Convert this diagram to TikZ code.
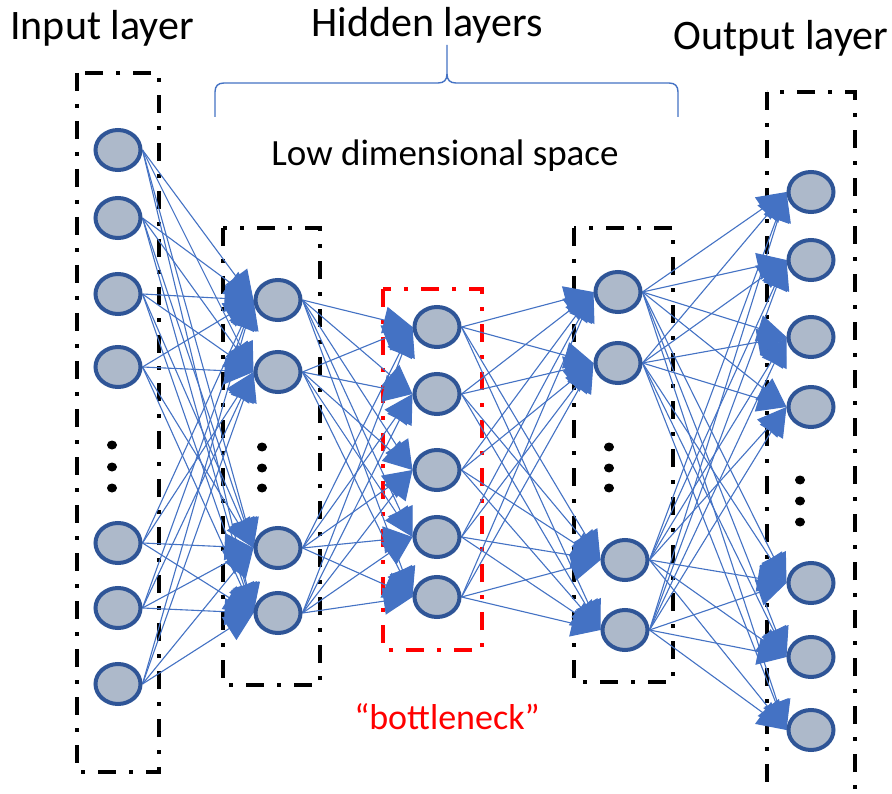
\documentclass[tikz,border=0pt]{standalone}
\usepackage{fontspec}
\setmainfont{Carlito}
\usetikzlibrary{shapes.geometric,arrows.meta,backgrounds}
\definecolor{edgeblue}{HTML}{4472C4}
\definecolor{nodefill}{HTML}{ADB9CA}
\definecolor{nodeline}{HTML}{2F5597}
\begin{document}
\begin{tikzpicture}[x=1pt,y=-1pt,
  neuron/.style={ellipse,draw=nodeline,line width=4pt,fill=nodefill,minimum width=45pt,minimum height=40pt,inner sep=0pt},
  conn/.style={draw=edgeblue,line width=1.1pt,-{Triangle[length=29pt,width=27pt]}},
  layerbox/.style={line width=4.5pt,dash pattern=on 18pt off 13pt on 4pt off 13pt},
  dotnode/.style={ellipse,fill=black,minimum width=10pt,minimum height=9pt,inner sep=0pt},
  lbl/.style={font=\fontsize{42}{50}\selectfont,anchor=base,inner sep=0pt}]
\useasboundingbox (0,0) rectangle (892,794);

% input layer
\foreach \n/\y in {1/150,2/218,3/294,4/367,5/543,6/608,7/684}
  \node[neuron] (in\n) at (118,\y) {};
\foreach \n/\y in {1/445,2/467,3/488}
  \node[dotnode] (din\n) at (112,\y) {};

% hidden layer 1
\foreach \n/\y in {1/300,2/372,3/548,4/613}
  \node[neuron] (ha\n) at (278,\y) {};
\foreach \n/\y in {1/447,2/468,3/488}
  \node[dotnode] (dha\n) at (262,\y) {};

% bottleneck
\foreach \n/\y in {1/327,2/394,3/470,4/537,5/597}
  \node[neuron] (b\n) at (437,\y) {};

% hidden layer 3
\node[neuron] (hb1) at (618,292) {};
\node[neuron] (hb2) at (618,363) {};
\node[neuron] (hb3) at (625,560) {};
\node[neuron] (hb4) at (625,630) {};
\foreach \n/\y in {1/447,2/468,3/488}
  \node[dotnode] (dhb\n) at (609,\y) {};

% output layer
\foreach \n/\y in {1/192,2/260,3/337,4/407,5/583,6/657,7/730}
  \node[neuron] (out\n) at (811,\y) {};
\foreach \n/\y in {1/480,2/501,3/522}
  \node[dotnode] (dout\n) at (800,\y) {};

\begin{pgfonlayer}{background}
  \fill[white] (0,0) rectangle (892,794);
  \draw[layerbox,black] (77,73) rectangle (159,772);
  \draw[layerbox,black] (223,228) rectangle (320,685);
  \draw[layerbox,red] (383,289) rectangle (482,650);
  \draw[layerbox,black] (574,228) rectangle (673,682);
  \draw[layerbox,black] (767,92) rectangle (855,820);
  \foreach \i in {1,...,7}{\foreach \j in {1,...,4}{\draw[conn] (in\i.east) -- (ha\j.west);}}
  \foreach \i in {1,...,4}{\foreach \j in {1,...,5}{\draw[conn] (ha\i.east) -- (b\j.west);}}
  \foreach \i in {1,...,5}{\foreach \j in {1,...,4}{\draw[conn] (b\i.east) -- (hb\j.west);}}
  \foreach \i in {1,...,4}{\foreach \j in {1,...,7}{\draw[conn] (hb\i.east) -- (out\j.west);}}
\end{pgfonlayer}

% brace
\draw[edgeblue,line width=1.4pt] (215,117) -- (215,92) .. controls (215,86) and (218,83) .. (224,83) -- (438,83) .. controls (444,83) and (447,80) .. (447,74) -- (447,45);
\draw[edgeblue,line width=1.4pt] (678,117) -- (678,92) .. controls (678,86) and (675,83) .. (669,83) -- (456,83) .. controls (450,83) and (447,80) .. (447,74);

% labels
\node[lbl] (tin) at (102,40) {Input layer};
\node[lbl] (thid) at (427,37) {Hidden layers};
\node[lbl] (tout) at (781,50) {Output layer};
\node[font=\fontsize{37}{44}\selectfont,anchor=base,inner sep=0pt] (tlow) at (445,166) {Low dimensional space};
\node[font=\fontsize{36}{44}\selectfont,anchor=base,inner sep=0pt,text=red] (tbn) at (447,729) {“bottleneck”};
\end{tikzpicture}
\end{document}
